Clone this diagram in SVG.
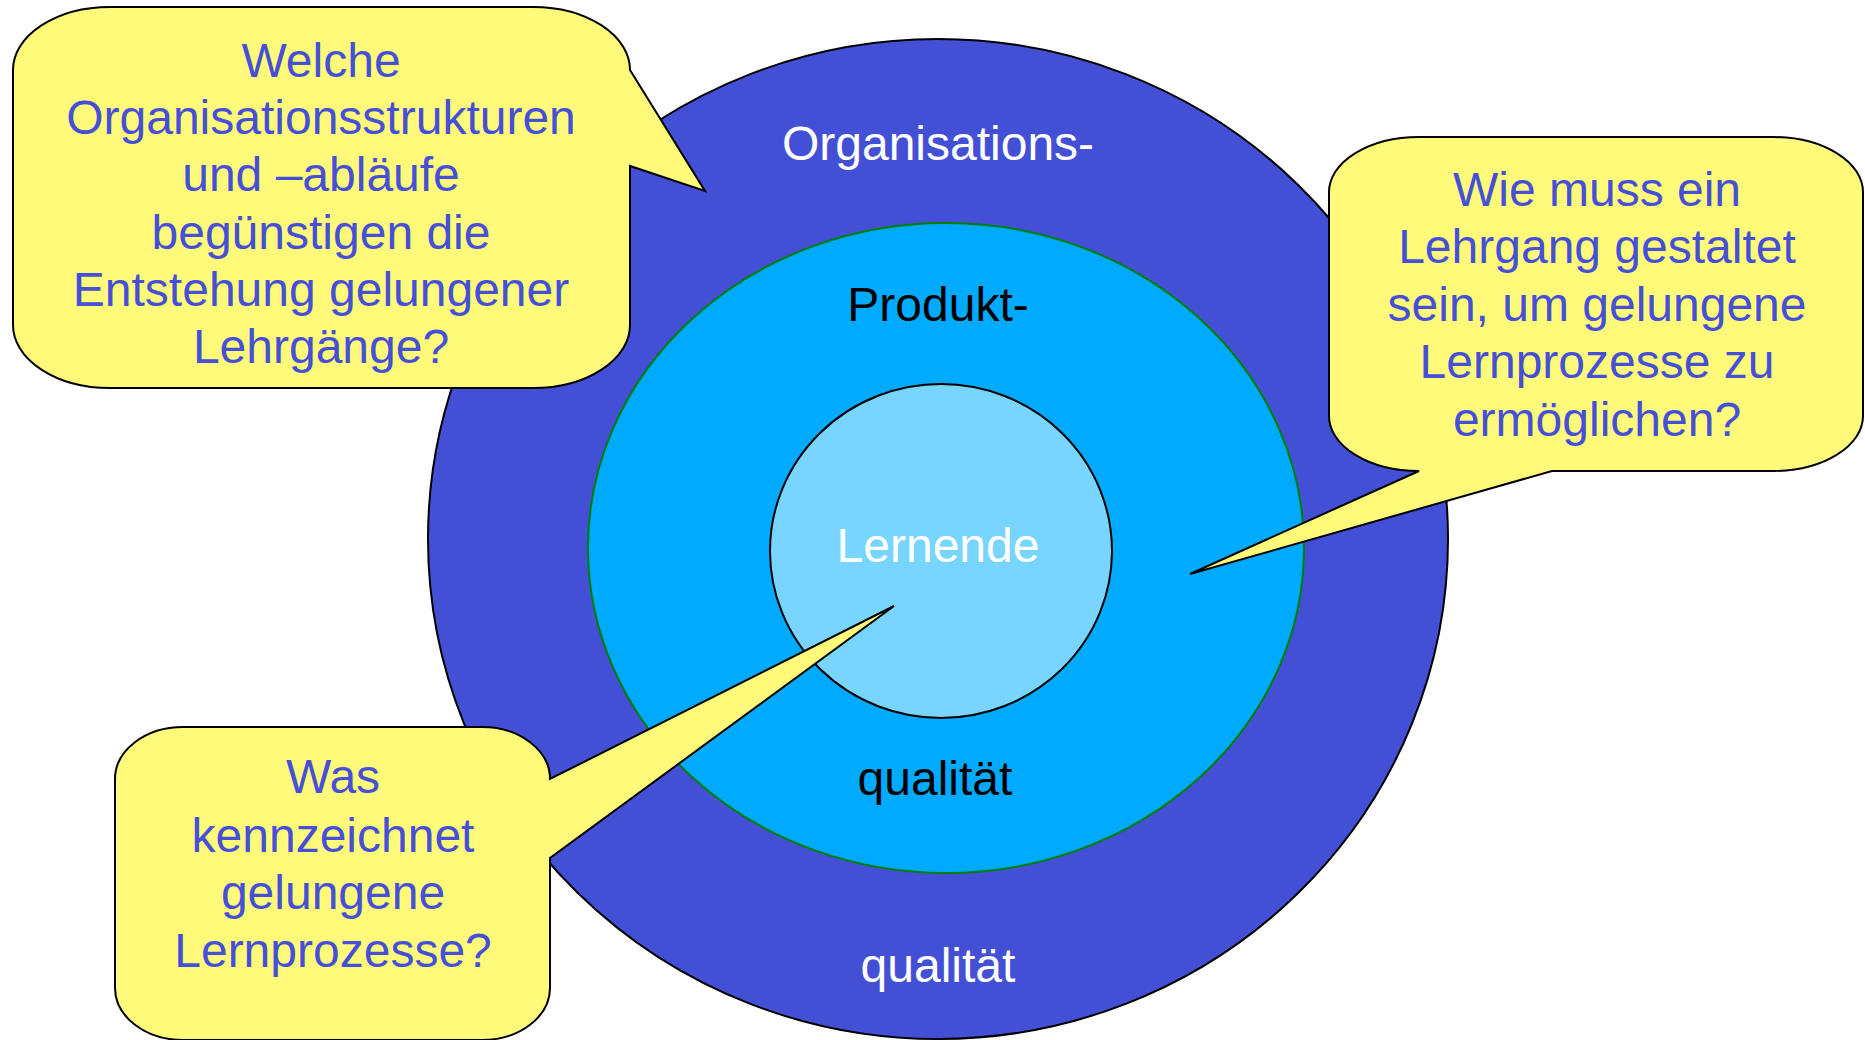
<svg xmlns="http://www.w3.org/2000/svg" width="1865" height="1040" viewBox="0 0 1865 1040">
<style>
text{font-family:"Liberation Sans",Arial,sans-serif;font-size:48px;text-anchor:middle}
.q{fill:#4650D6}
.w{fill:#FFFFFF}
.k{fill:#000000}
.call{fill:#FFFA7A;stroke:#000;stroke-width:2;stroke-linejoin:miter}
</style>
<rect width="1865" height="1040" fill="#FFFFFF"/>
<g id="ring-organisation">
<ellipse cx="938" cy="539" rx="510" ry="500" fill="#4350D5" stroke="#000" stroke-width="2"/>
<text class="w" x="938" y="160">Organisations-</text>
<text class="w" x="938" y="982">qualität</text>
</g>
<g id="ring-produkt">
<ellipse cx="946" cy="548" rx="358" ry="325" fill="#00AAFF" stroke="#008000" stroke-width="2"/>
<text class="k" x="938" y="321">Produkt-</text>
<text class="k" x="935" y="795">qualität</text>
</g>
<g id="ring-lernende">
<ellipse cx="941" cy="551" rx="171" ry="167" fill="#77D5FF" stroke="#000" stroke-width="2"/>
<text class="w" x="938" y="562">Lernende</text>
</g>
<g id="callouts">
<g id="callout-organisation">
<path class="call" d="M110,7 H533 A97 63 0 0 1 630 70 L705 191 L630 166 V325 A97 63 0 0 1 533 388 H110 A97 63 0 0 1 13 325 V70 A97 63 0 0 1 110 7 Z"/>
<text class="q" x="321" y="77">Welche</text>
<text class="q" x="321" y="134">Organisationsstrukturen</text>
<text class="q" x="321" y="191">und –abläufe</text>
<text class="q" x="321" y="249">begünstigen die</text>
<text class="q" x="321" y="306">Entstehung gelungener</text>
<text class="q" x="321" y="363">Lehrgänge?</text>
</g>
<g id="callout-produkt">
<path class="call" d="M1419,137 H1773 A90 55 0 0 1 1863 192 V416 A90 55 0 0 1 1773 471 H1552 L1190 574 L1419 471 A90 55 0 0 1 1329 416 V192 A90 55 0 0 1 1419 137 Z"/>
<text class="q" x="1597" y="206">Wie muss ein</text>
<text class="q" x="1597" y="263">Lehrgang gestaltet</text>
<text class="q" x="1597" y="321">sein, um gelungene</text>
<text class="q" x="1597" y="378">Lernprozesse zu</text>
<text class="q" x="1597" y="436">ermöglichen?</text>
</g>
<g id="callout-lernende">
<path class="call" d="M183,727 H482 A68 52 0 0 1 550 779 L894 606 L550 858 V988 A68 52 0 0 1 482 1040 H183 A68 52 0 0 1 115 988 V779 A68 52 0 0 1 183 727 Z"/>
<text class="q" x="333" y="793">Was</text>
<text class="q" x="333" y="852">kennzeichnet</text>
<text class="q" x="333" y="909">gelungene</text>
<text class="q" x="333" y="967">Lernprozesse?</text>
</g>
</g>
</svg>
